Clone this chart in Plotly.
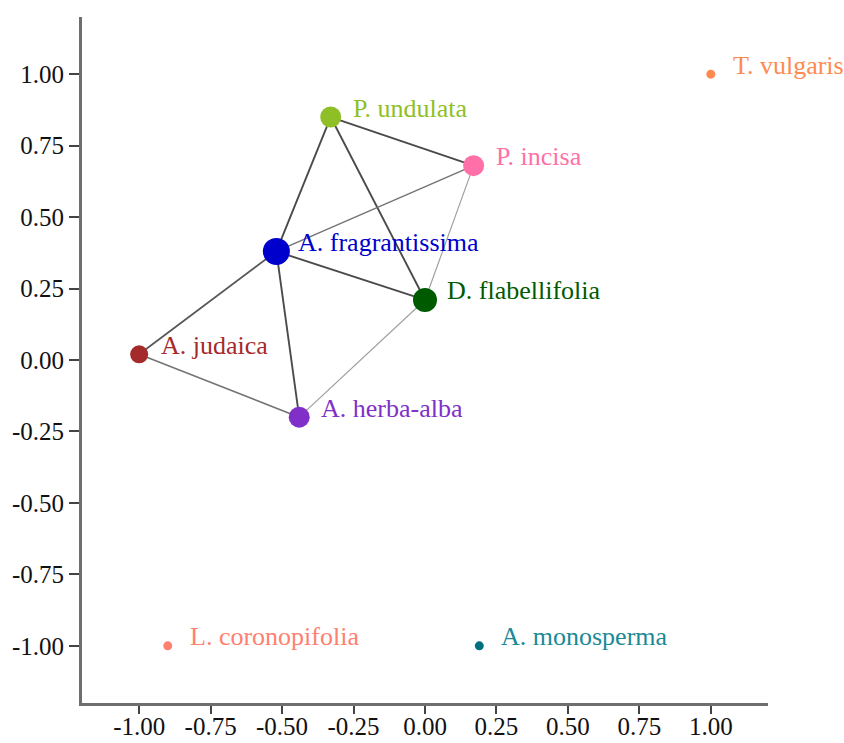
import plotly.graph_objects as go

# Species nodes: coordinates, marker size (px) and colour
species = ["A. fragrantissima", "P. undulata", "P. incisa", "D. flabellifolia",
           "A. herba-alba", "A. judaica", "T. vulgaris", "L. coronopifolia",
           "A. monosperma"]
x_pos = [-0.52, -0.33, 0.17, 0.00, -0.44, -1.00, 1.00, -0.90, 0.19]
y_pos = [0.38, 0.85, 0.68, 0.21, -0.20, 0.02, 1.00, -1.00, -1.00]
node_size = [27, 21, 21, 24, 21, 18, 9, 9, 9]
node_color = ["#0000CD", "#8FBF26", "#FF6FA8", "#005A00", "#8030C8",
              "#A52A2A", "#FF8A50", "#FF8070", "#007080"]
label_color = ["#0000CD", "#8FBF26", "#FF6FA8", "#005A00", "#8030C8",
               "#A52A2A", "#FF8A50", "#FF8070", "#1A8A96"]

# Links between species: (source, target, strength 0..1)
edge_source = ["P. undulata", "P. undulata", "P. undulata", "A. fragrantissima",
               "A. fragrantissima", "A. fragrantissima", "A. fragrantissima",
               "P. incisa", "D. flabellifolia", "A. judaica"]
edge_target = ["A. fragrantissima", "D. flabellifolia", "P. incisa", "P. incisa",
               "D. flabellifolia", "A. judaica", "A. herba-alba",
               "D. flabellifolia", "A. herba-alba", "A. herba-alba"]
edge_weight = [0.9, 0.9, 0.9, 0.6, 0.9, 0.8, 0.9, 0.3, 0.3, 0.6]

tick_vals = [-1.0, -0.75, -0.5, -0.25, 0.0, 0.25, 0.5, 0.75, 1.0]
tick_text = ["-1.00", "-0.75", "-0.50", "-0.25", "0.00", "0.25", "0.50", "0.75", "1.00"]

idx = {name: i for i, name in enumerate(species)}

fig = go.Figure()

for s, t, w in zip(edge_source, edge_target, edge_weight):
    i, j = idx[s], idx[t]
    g = int(200 - 140 * w)
    fig.add_trace(go.Scatter(
        x=[x_pos[i], x_pos[j]], y=[y_pos[i], y_pos[j]],
        mode="lines",
        line=dict(color=f"rgb({g},{g},{g})", width=0.8 + 1.2 * w),
        hoverinfo="skip", showlegend=False))

fig.add_trace(go.Scatter(
    x=x_pos, y=y_pos, mode="markers",
    marker=dict(size=node_size, color=node_color, opacity=1, line=dict(width=0)),
    text=species, hoverinfo="text", showlegend=False))

for name, x, y, c in zip(species, x_pos, y_pos, label_color):
    fig.add_annotation(
        x=x, y=y, text=name, showarrow=False,
        xanchor="left", yanchor="middle", xshift=20, yshift=9,
        font=dict(family="Liberation Serif", size=26, color=c))

axis_common = dict(
    range=[-1.2, 1.2], tickvals=tick_vals, ticktext=tick_text,
    showgrid=False, zeroline=False, showline=True, linecolor="#6E6E6E",
    linewidth=3, ticks="outside", tickwidth=2, tickcolor="#444",
    tickfont=dict(family="Liberation Serif", size=25, color="#111"),
    automargin=False,
)

fig.update_xaxes(**axis_common, ticklen=8, ticklabelstandoff=-9)
fig.update_yaxes(**axis_common, ticklen=10)

fig.update_layout(
    width=844, height=743,
    margin=dict(l=82, r=76, t=17, b=40),
    plot_bgcolor="white", paper_bgcolor="white",
)

fig.write_html("out.html")
